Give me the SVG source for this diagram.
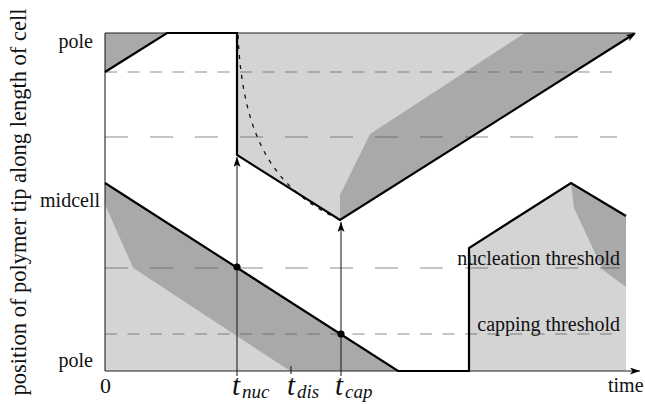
<svg xmlns="http://www.w3.org/2000/svg" width="645" height="404" viewBox="0 0 645 404">
<defs>
<marker id="ah" markerUnits="userSpaceOnUse" markerWidth="12" markerHeight="8" refX="10" refY="3.5" orient="auto">
<path d="M0,0 L10,3.5 L0,7 L2.5,3.5 Z" fill="#000"/>
</marker>
<style>
.light{fill:#d4d4d4;stroke:none}
.dark{fill:#a9a9a9;stroke:none}
.thick{fill:none;stroke:#000;stroke-width:2.2;stroke-linejoin:miter}
.thin{fill:none;stroke:#222;stroke-width:1.1}
.dshort{stroke:#555;stroke-opacity:0.45;stroke-width:1.4;stroke-dasharray:12 10.5;fill:none}
.dlong{stroke:#555;stroke-opacity:0.45;stroke-width:1.4;stroke-dasharray:23 22;fill:none}
.lbl{font-family:"Liberation Serif","Times New Roman",serif;fill:#111}
.it{font-family:"Liberation Serif","Times New Roman",serif;font-style:italic;fill:#111}
.big{font-size:29px}
.sub{font-size:19px}
</style>
</defs>
<g id="regions">
<path class="dark" d="M105,33 L167,33 L105,72 Z"/>
<path class="light" d="M237,33 L635,33 L340,220 L237,155 Z"/>
<path class="dark" d="M525,33 L635,33 L340,220 L340,195 L370,134 Z"/>
<path class="light" d="M105,205 L133,268 L290,371 L105,371 Z"/>
<path class="dark" d="M105,183 L398,371 L290,371 L133,268 L105,205 Z"/>
<path class="light" d="M469,371 L469,248 L571,183 L626,216 L626,371 Z"/>
<path class="dark" d="M571,183 L626,216 L626,287 L603,270 L574,208 Z"/>
</g>
<g id="thresholds">
<line class="dshort" x1="105" y1="72" x2="612" y2="72"/>
<line class="dlong" x1="105" y1="137" x2="617" y2="137"/>
<line class="dlong" x1="105" y1="268" x2="620" y2="268"/>
<line class="dshort" x1="105" y1="334" x2="620" y2="334"/>
</g>
<g id="axes">
<line class="thin" x1="105" y1="33" x2="635" y2="33"/>
<line class="thin" x1="105" y1="33" x2="105" y2="371"/>
<line class="thin" x1="105" y1="371" x2="640" y2="371" marker-end="url(#ah)"/>
<line class="thin" x1="291" y1="366" x2="291" y2="374"/>
</g>
<g id="connectors">
<path d="M238,35 C243,150 282,192 340,220" fill="none" stroke="#111" stroke-width="1.3" stroke-dasharray="4 6"/>
<line class="thin" x1="237" y1="376" x2="237" y2="157" marker-end="url(#ah)"/>
<line class="thin" x1="341" y1="376" x2="341" y2="222" marker-end="url(#ah)"/>
<path class="thick" d="M105,72 L167,33 L237,33 L237,155 L340,220 L634,34"/>
<line x1="620" y1="42.5" x2="636" y2="33" stroke="none" marker-end="url(#ah)"/>
<path class="thick" d="M105,183 L398,371 L469,371 L469,248 L571,183 L626,216"/>
<circle cx="237" cy="267" r="3.6" fill="#000"/>
<circle cx="341" cy="334" r="3.6" fill="#000"/>
</g>
<g id="labels">
<text class="lbl" x="93" y="48" text-anchor="end" style="font-size:20px">pole</text>
<text class="lbl" x="100" y="207" text-anchor="end" style="font-size:20px">midcell</text>
<text class="lbl" x="93" y="367" text-anchor="end" style="font-size:20px">pole</text>
<text class="lbl" x="105.5" y="393" text-anchor="middle" style="font-size:22px">0</text>
<text class="lbl" x="608" y="392" style="font-size:20px">time</text>
<text class="lbl" x="620" y="265" text-anchor="end" style="font-size:20px">nucleation threshold</text>
<text class="lbl" x="620" y="331" text-anchor="end" style="font-size:20px">capping threshold</text>
<text class="lbl" transform="translate(26,202) rotate(-90)" text-anchor="middle" style="font-size:22.5px">position of polymer tip along length of cell</text>
<text class="it big" x="232" y="395">t</text>
<text class="it sub" x="242" y="398">nuc</text>
<text class="it big" x="287" y="395">t</text>
<text class="it sub" x="297" y="398">dis</text>
<text class="it big" x="335" y="395">t</text>
<text class="it sub" x="345" y="398">cap</text>
</g>
</svg>
